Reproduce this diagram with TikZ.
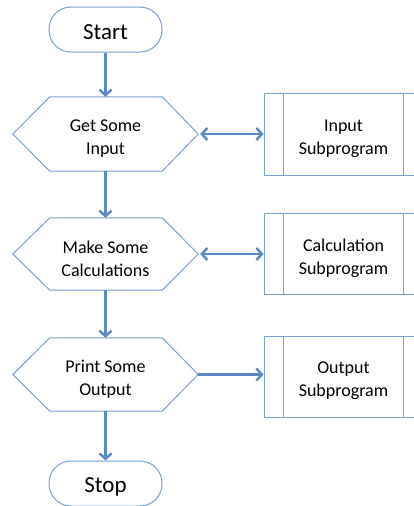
\documentclass[tikz,border=0pt]{standalone}
\usepackage{fontspec}
\setmainfont{Carlito}
\usetikzlibrary{arrows.meta}
\definecolor{shapeline}{RGB}{120,160,212}
\definecolor{arrowline}{RGB}{88,137,198}
\begin{document}
\begin{tikzpicture}[x=1pt,y=-1pt,
  term/.style={draw=shapeline, line width=1pt, fill=white, rounded corners=22pt,
    minimum width=113pt, minimum height=45pt, inner sep=0pt},
  termtext/.style={inner sep=0pt, yshift=-3pt, font=\fontsize{23}{27}\selectfont},
  hexbox/.style={minimum width=185pt, minimum height=74pt, inner sep=0pt},
  bodytext/.style={inner sep=0pt, yshift=-4.5pt, align=center, font=\fontsize{18}{23}\selectfont},
  subbox/.style={draw=shapeline, line width=1pt, fill=white,
    minimum width=159pt, minimum height=82pt, inner sep=0pt},
  tip/.tip={Straight Barb[length=5.5pt,width=12pt,line width=2.4pt]},
  flow/.style={draw=arrowline, line width=2.6pt, -tip},
  flowboth/.style={draw=arrowline, line width=2.6pt, tip-tip},
  hexline/.style={draw=shapeline, line width=1pt, fill=white}
]
\useasboundingbox (0,0) rectangle (414,506);
\begin{scope}
\clip (0,0) rectangle (414,506);

\node[term] (start) at (105.5,29.5) {};
\node[termtext] (startt) at (start) {Start};
\node[term] (stop) at (105.5,483.5) {};
\node[termtext] (stopt) at (stop) {Stop};

\node[hexbox] (h1) at (105.5,134) {};
\node[hexbox, minimum height=72pt] (h2) at (105.5,254) {};
\node[hexbox, minimum height=73pt] (h3) at (105.5,374.5) {};

\foreach \h in {h1,h2,h3}{
  \path[hexline] ([xshift=37pt]\h.north west) -- ([xshift=-36pt]\h.north east) -- (\h.east)
    -- ([xshift=-36pt]\h.south east) -- ([xshift=37pt]\h.south west) -- (\h.west) -- cycle;
}
\node[bodytext] (t1) at (h1) {Get Some\\Input};
\node[bodytext] (t2) at (h2) {Make Some\\Calculations};
\node[bodytext] (t3) at (h3) {Print Some\\Output};

\node[subbox] (s1) at (343.5,134) {};
\node[subbox, minimum height=81pt] (s2) at (343.5,254) {};
\node[subbox, minimum height=81pt] (s3) at (343.5,376.5) {};
\node[bodytext] (u1) at (s1) {Input\\Subprogram};
\node[bodytext] (u2) at (s2) {Calculation\\Subprogram};
\node[bodytext] (u3) at (s3) {Output\\Subprogram};
\foreach \s in {s1,s2,s3}{
  \draw[shapeline, line width=1pt] ([xshift=20pt]\s.north west) -- ([xshift=20pt]\s.south west);
  \draw[shapeline, line width=1pt] ([xshift=-20pt]\s.north east) -- ([xshift=-20pt]\s.south east);
}

\draw[flow] (start.south) -- (h1.north);
\draw[flow] (h1.south) -- (h2.north);
\draw[flow] (h2.south) -- (h3.north);
\draw[flow] (h3.south) -- (stop.north);

\draw[flowboth] ([xshift=2pt]h1.east) -- (s1.west |- h1.east);
\draw[flowboth] ([xshift=2pt]h2.east) -- (s2.west |- h2.east);
\draw[flow] (h3.east) -- (s3.west |- h3.east);
\end{scope}
\end{tikzpicture}
\end{document}
